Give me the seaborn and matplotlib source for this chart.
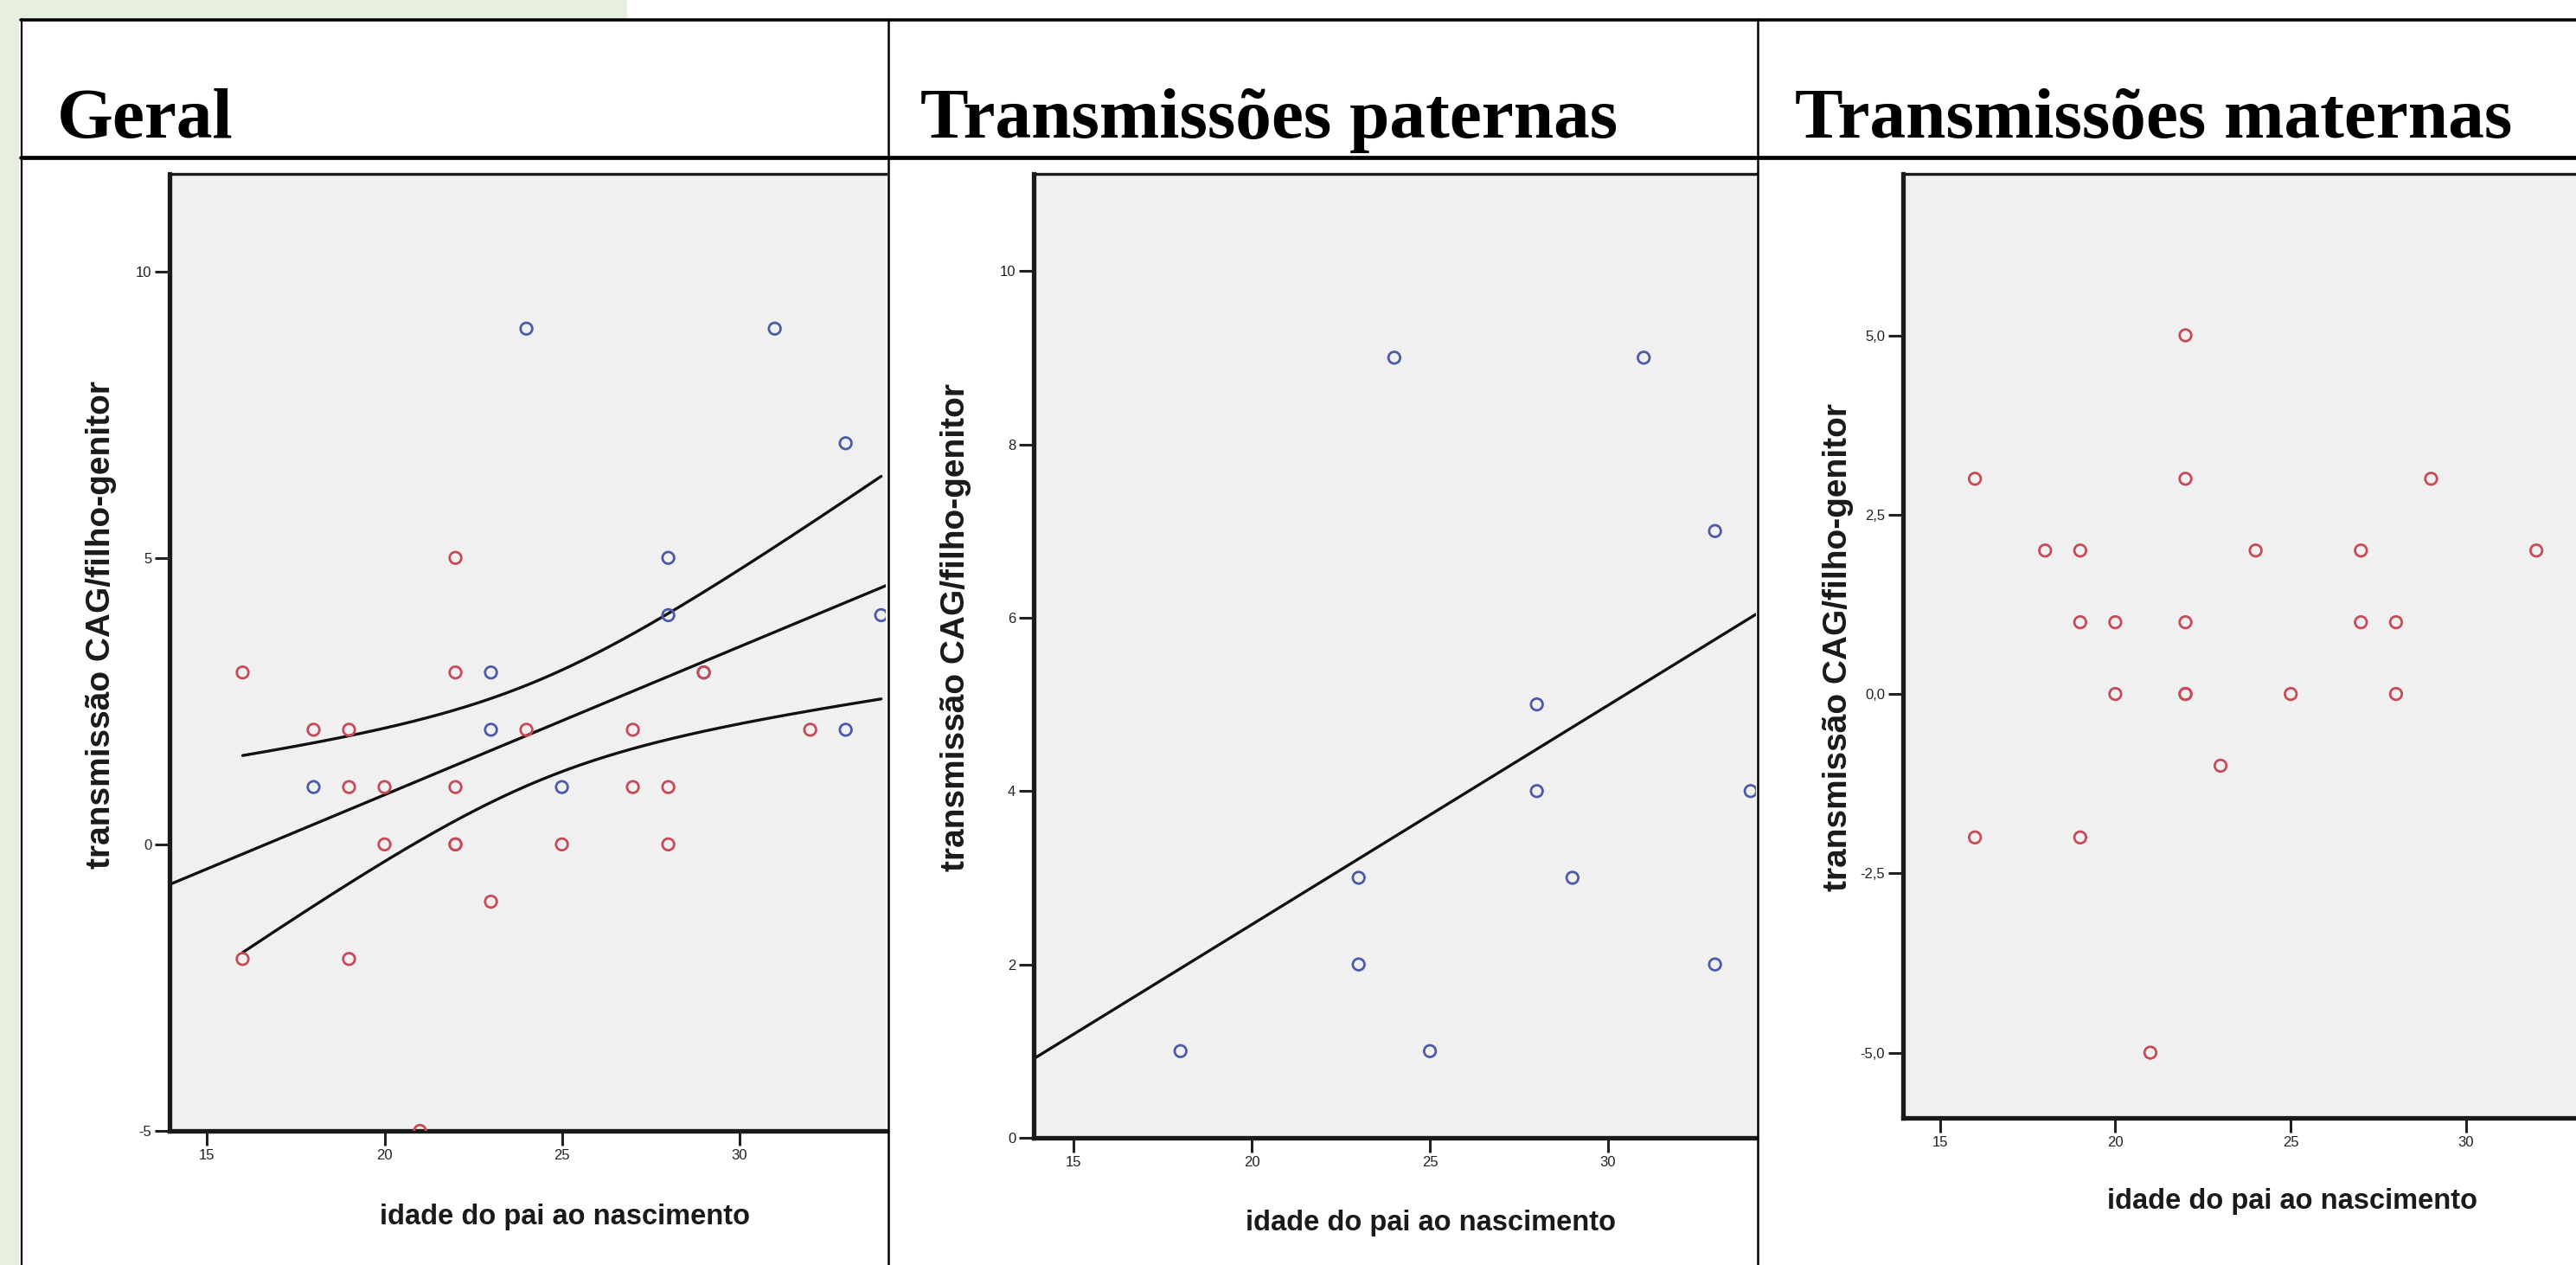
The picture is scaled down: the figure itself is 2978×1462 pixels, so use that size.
import numpy as np
import pandas as pd
import matplotlib
matplotlib.use("Agg")
import matplotlib.pyplot as plt
from matplotlib.lines import Line2D
from matplotlib.patches import Rectangle
import seaborn as sns

# ---------------- data ----------------
pat_idade = [18, 23, 23, 24, 25, 28, 28, 29, 31, 33, 33, 34]
pat_cag = [1, 2, 3, 9, 1, 4, 5, 3, 9, 2, 7, 4]
mat_idade = [16, 16, 18, 19, 19, 19, 20, 20, 21, 22, 22, 22, 22, 22,
             23, 24, 25, 27, 27, 28, 28, 29, 32]
mat_cag = [3, -2, 2, 2, 1, -2, 1, 0, -5, 5, 3, 1, 0, 0,
           -1, 2, 0, 2, 1, 1, 0, 3, 2]
pat_fit_intercept = -2.60   # fit line
pat_fit_slope = 0.253
t_crit = 2.0345             # t(0.975, df = 33) for the 95 % band

titles = ["Geral", "Transmissões paternas", "Transmissões maternas"]
x_label = "idade do pai ao nascimento"
y_label = "transmissão CAG/filho-genitor"
x_ticks = [15, 20, 25, 30]
y_ticks_geral = [-5, 0, 5, 10]
y_ticks_pat = [0, 2, 4, 6, 8, 10]
y_ticks_mat = [-5, -2.5, 0, 2.5, 5]
y_ticklabels_mat = ["-5,0", "-2,5", "0,0", "2,5", "5,0"]

RED = "#c64b57"
BLUE = "#4c5ba8"

# ---------------- figure ----------------
W, H = 2978, 1462
sns.set_theme(style="ticks")
plt.rcParams["font.family"] = ["Liberation Sans", "DejaVu Sans"]
fig = plt.figure(figsize=(W / 100, H / 100), dpi=100)
fig.patch.set_facecolor("white")


def rect(left, top, right, bottom):
    return [left / W, 1 - bottom / H, (right - left) / W, (bottom - top) / H]


def fx(x):
    return x / W


def fy(y):
    return 1 - y / H


# slide background (light green) around the table
GREEN = "#e7efdf"
fig.patches.append(Rectangle((0, 0), fx(22), 1, transform=fig.transFigure,
                             facecolor=GREEN, edgecolor="none", zorder=0))
fig.patches.append(Rectangle((0, fy(21)), fx(725), 21 / H, transform=fig.transFigure,
                             facecolor=GREEN, edgecolor="none", zorder=0))

# table lines
def hline(y, x0, x1, lw):
    fig.add_artist(Line2D([fx(x0), fx(x1)], [fy(y), fy(y)], transform=fig.transFigure,
                          color="black", lw=lw, zorder=5))


def vline(x, y0, y1, lw):
    fig.add_artist(Line2D([fx(x), fx(x)], [fy(y0), fy(y1)], transform=fig.transFigure,
                          color="black", lw=lw, zorder=5))


hline(23, 24, W, 2.6)
hline(182, 24, W, 3.4)
vline(25, 22, H, 1.6)
vline(1027, 22, H, 1.8)
vline(2032, 22, H, 1.8)

# header titles
title_x = [66, 1064, 2075]
for t, x in zip(titles, title_x):
    fig.text(fx(x), fy(159), t, ha="left", va="baseline", fontsize=60,
             fontweight="bold", family=["Liberation Serif", "DejaVu Serif"], color="black")

ax1 = fig.add_axes(rect(196, 201, 1024, 1307))
ax2 = fig.add_axes(rect(1195, 201, 2030, 1315))
ax3 = fig.add_axes(rect(2200, 201, 2978, 1292))

lims = {
    ax1: ((13.94, 34.13), (-5.0, 11.70)),
    ax2: ((13.88, 34.15), (0.0, 11.12)),
    ax3: ((13.95, 33.13), (-5.91, 7.25)),
}

df_pat = pd.DataFrame({"idade": pat_idade, "cag": pat_cag, "grupo": "paterna"})
df_mat = pd.DataFrame({"idade": mat_idade, "cag": mat_cag, "grupo": "materna"})
df_all = pd.concat([df_pat, df_mat], ignore_index=True)
palette = {"paterna": BLUE, "materna": RED}


def hollow_scatter(ax, data):
    sns.scatterplot(data=data, x="idade", y="cag", hue="grupo", palette=palette,
                    s=95, marker="o", legend=False, ax=ax, zorder=3)
    pc = ax.collections[-1]
    cols = pc.get_facecolors()
    pc.set_edgecolors(cols)
    pc.set_facecolors("none")
    pc.set_linewidths(2.0)


LW = 2.4

# ---- Geral: fit line with 95 % mean band ----
x = df_all["idade"].to_numpy(float)
y = df_all["cag"].to_numpy(float)
n = len(x)
mx = x.mean()
sxx = ((x - mx) ** 2).sum()
b = ((x - mx) * (y - y.mean())).sum() / sxx
a = y.mean() - b * mx
s = np.sqrt(((y - (a + b * x)) ** 2).sum() / (n - 2))

xl = lims[ax1][0]
xg = np.linspace(xl[0], xl[1], 200)
sns.lineplot(x=xg, y=a + b * xg, ax=ax1, color="#111111", lw=LW, zorder=2)
xb = np.linspace(x.min(), x.max(), 200)
half = t_crit * s * np.sqrt(1 / n + (xb - mx) ** 2 / sxx)
sns.lineplot(x=xb, y=a + b * xb + half, ax=ax1, color="#111111", lw=LW, zorder=2)
sns.lineplot(x=xb, y=a + b * xb - half, ax=ax1, color="#111111", lw=LW, zorder=2)
hollow_scatter(ax1, df_all)

# ---- paternal ----
xl2 = lims[ax2][0]
xg2 = np.linspace(xl2[0], xl2[1], 200)
sns.lineplot(x=xg2, y=pat_fit_intercept + pat_fit_slope * xg2, ax=ax2,
             color="#111111", lw=LW, zorder=2)
hollow_scatter(ax2, df_pat)

# ---- maternal ----
hollow_scatter(ax3, df_mat)

label_pos = {
    ax1: ((-0.095, 0.529), (0.552, -0.090)),
    ax2: ((-0.108, 0.530), (0.550, -0.088)),
    ax3: ((-0.096, 0.499), (0.578, -0.088)),
}
yticks = {ax1: (y_ticks_geral, [str(v) for v in y_ticks_geral]),
          ax2: (y_ticks_pat, [str(v) for v in y_ticks_pat]),
          ax3: (y_ticks_mat, y_ticklabels_mat)}

for ax in (ax1, ax2, ax3):
    ax.set_facecolor("#f0f0f0")
    (x0, x1), (y0, y1) = lims[ax]
    ax.set_xlim(x0, x1)
    ax.set_ylim(y0, y1)
    ax.set_xticks(x_ticks)
    ax.set_xticklabels([str(v) for v in x_ticks])
    ax.set_yticks(yticks[ax][0])
    ax.set_yticklabels(yticks[ax][1])
    ax.tick_params(axis="both", direction="out", length=12, width=2.2,
                   colors="#222222", labelsize=12, pad=3)
    for side in ("left", "bottom"):
        ax.spines[side].set_linewidth(3.8)
        ax.spines[side].set_color("#1a1a1a")
    ax.spines["top"].set_linewidth(2.4)
    ax.spines["top"].set_color("#1a1a1a")
    ax.spines["right"].set_visible(False)
    ax.set_xlabel(x_label, fontsize=23.5, fontweight="bold", color="#1a1a1a")
    ax.set_ylabel(y_label, fontsize=28, fontweight="bold", color="#1a1a1a")
    (ylx, yly), (xlx, xly) = label_pos[ax]
    ax.yaxis.set_label_coords(ylx, yly)
    ax.yaxis.label.set_va("center")
    ax.xaxis.set_label_coords(xlx, xly)
    ax.xaxis.label.set_va("center")
    ax.grid(False)

fig.savefig("out.png", dpi=100, facecolor=fig.get_facecolor())
